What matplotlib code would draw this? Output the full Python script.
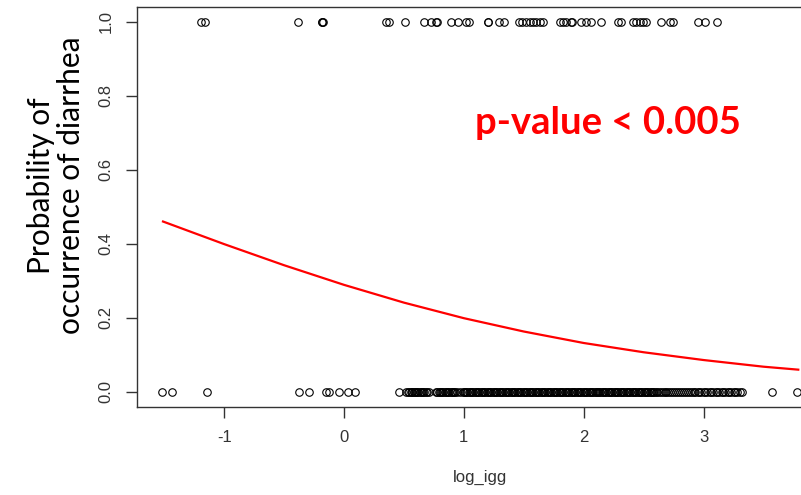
import matplotlib
matplotlib.use('Agg')
import matplotlib.pyplot as plt

# log_igg values of the observations with diarrhea (y = 1)
x_yes = [-1.195, -1.159, -0.382, -0.184, -0.182, -0.178, 0.351, 0.378, 0.512,
         0.671, 0.727, 0.767, 0.772, 0.894, 0.949, 1.019, 1.047, 1.198, 1.204,
         1.297, 1.339, 1.464, 1.489, 1.520, 1.548, 1.573, 1.604, 1.632, 1.657,
         1.799, 1.824, 1.855, 1.894, 1.899, 1.980, 2.022, 2.063, 2.147, 2.286,
         2.314, 2.409, 2.439, 2.467, 2.492, 2.523, 2.648, 2.718, 2.743, 2.954,
         3.010, 3.108]

# log_igg values of the observations without diarrhea (y = 0)
x_no = [-1.515, -1.432, -1.145, -0.373, -0.290, -0.150, -0.123, -0.039, 0.030,
        0.094, 0.456,
        0.52, 0.53, 0.54, 0.555, 0.565, 0.57, 0.58, 0.59, 0.60, 0.61, 0.62,
        0.63, 0.64, 0.65, 0.66, 0.67, 0.68, 0.69,
        0.71, 0.77, 0.78, 0.79, 0.80, 0.81, 0.82, 0.83, 0.84, 0.85, 0.86, 0.87,
        0.88, 0.89, 0.90, 0.91, 0.92, 0.93, 0.94,
        0.97, 0.99, 1.00, 1.01, 1.02, 1.03, 1.04, 1.05, 1.06, 1.07, 1.08, 1.09,
        1.10, 1.11, 1.12, 1.13, 1.14, 1.15, 1.16, 1.17, 1.18, 1.19, 1.20, 1.21,
        1.22, 1.23, 1.24, 1.25, 1.26, 1.27, 1.28, 1.29, 1.30, 1.31, 1.32, 1.33,
        1.34, 1.35, 1.36, 1.37, 1.38, 1.39, 1.40, 1.41, 1.42, 1.43, 1.44, 1.45,
        1.46, 1.47, 1.48, 1.49, 1.50, 1.51, 1.52, 1.53, 1.54, 1.55, 1.56, 1.57,
        1.58, 1.59, 1.60, 1.61, 1.62, 1.63, 1.64, 1.65, 1.66, 1.67, 1.68, 1.69,
        1.70, 1.71, 1.72, 1.73, 1.74, 1.75, 1.76, 1.77, 1.78, 1.79, 1.80, 1.81,
        1.82, 1.83, 1.84, 1.85, 1.86, 1.87, 1.88, 1.89, 1.90, 1.91, 1.92, 1.93,
        1.94, 1.95, 1.96, 1.97, 1.98, 1.99, 2.00, 2.01, 2.02, 2.03, 2.04, 2.05,
        2.06, 2.07, 2.08, 2.09, 2.10, 2.11, 2.12, 2.13, 2.14, 2.15, 2.16, 2.17,
        2.18, 2.19, 2.20, 2.21, 2.22, 2.23, 2.24, 2.25, 2.26, 2.27, 2.28, 2.29,
        2.30, 2.31, 2.32, 2.33, 2.34, 2.35, 2.36, 2.37, 2.38, 2.39, 2.40, 2.41,
        2.42, 2.43, 2.44, 2.45, 2.46, 2.47, 2.48, 2.49, 2.50, 2.51, 2.52, 2.53,
        2.54, 2.55, 2.56, 2.57, 2.58, 2.59, 2.60, 2.61,
        2.63, 2.645, 2.66, 2.675, 2.69, 2.705, 2.72, 2.735, 2.75, 2.77, 2.79,
        2.80, 2.82, 2.835, 2.85, 2.87, 2.885, 2.90, 2.92, 2.93, 2.95, 2.965,
        2.98, 3.00, 3.015, 3.03, 3.05, 3.065, 3.08, 3.10, 3.115, 3.13, 3.15,
        3.165, 3.18, 3.20, 3.215, 3.23, 3.25, 3.265, 3.28, 3.30, 3.32,
        3.567, 3.776]

# fitted probability
curve_x = [-1.51, -1.0, -0.5, 0.0, 0.5, 1.0, 1.5, 2.0, 2.5, 3.0, 3.5, 3.79]
curve_p = [0.460, 0.399, 0.342, 0.289, 0.241, 0.199, 0.163, 0.132, 0.107,
           0.086, 0.068, 0.060]

x_ticks = [-1, 0, 1, 2, 3]
y_ticks = [0.0, 0.2, 0.4, 0.6, 0.8, 1.0]

fig = plt.figure(figsize=(8.01, 4.95), dpi=100)
# right edge of the box falls outside the picture (it is cropped there)
ax = fig.add_axes([137 / 801, 88.3 / 495, 685 / 801, 400 / 495])

marker_style = dict(linestyle='none', marker='o', markersize=5.4,
                    markerfacecolor='none', markeredgecolor='black',
                    markeredgewidth=0.8)
ax.plot(x_yes, [1] * len(x_yes), **marker_style)
ax.plot(x_no, [0] * len(x_no), **marker_style)
ax.plot(curve_x, curve_p, color='red', linewidth=1.6)

ax.set_xlim(-1.727, 3.988)
ax.set_ylim(-0.04, 1.04)

for side in ['left', 'bottom', 'top']:
  ax.spines[side].set_color('#333333')
  ax.spines[side].set_linewidth(1.0)
ax.spines['right'].set_visible(False)

ax.set_xticks(x_ticks)
ax.set_xticklabels([str(t) for t in x_ticks])
ax.set_yticks(y_ticks)
ax.set_yticklabels([f"{t:.1f}" for t in y_ticks], rotation=90, va='center')
ax.tick_params(axis='both', length=8, width=1, color='#333333',
               labelcolor='#333333', labelsize=12)
ax.tick_params(axis='x', pad=9)
ax.tick_params(axis='y', pad=9)
for lab in ax.get_xticklabels() + ax.get_yticklabels():
  lab.set_family('Liberation Sans')

ax.set_xlabel('log_igg', fontsize=12, color='#333333', labelpad=18,
              family='Liberation Sans')

fig.text(56 / 801, 0.625, 'Probability of\noccurrence of diarrhea',
         rotation=90, ha='center', va='center', multialignment='center',
         fontsize=21.5, family='Lato', linespacing=1.12)

ax.text(0.493, 0.709, 'p-value < 0.005', transform=ax.transAxes,
        color='red', fontsize=27.5, fontweight='bold', family='Lato',
        ha='left', va='center')

fig.savefig('out.png', dpi=100)
